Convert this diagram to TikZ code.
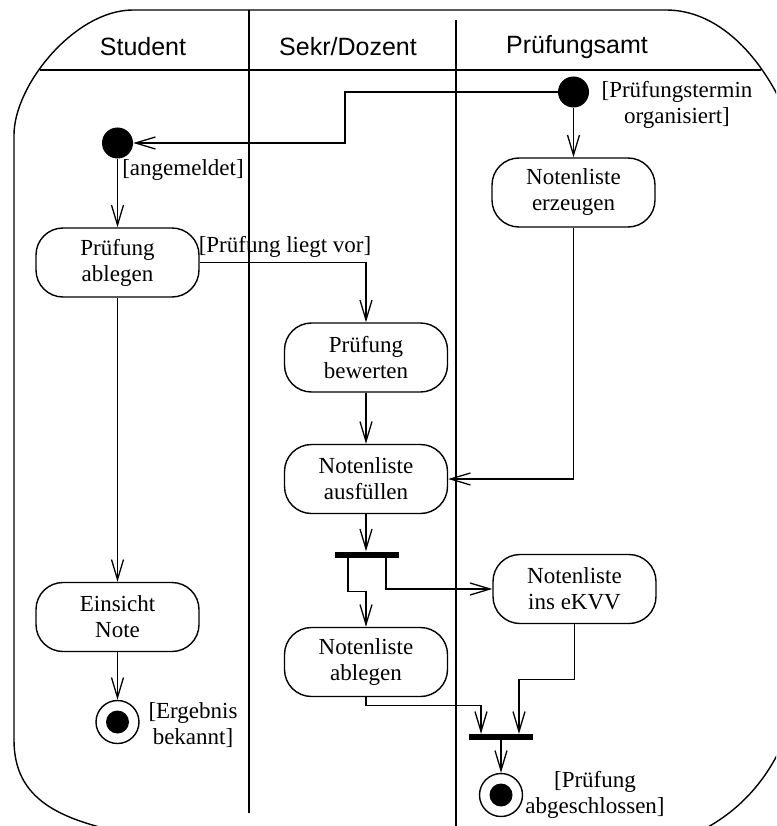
\documentclass[tikz,border=0pt]{standalone}
\usepackage{fontspec}
\setmainfont{Liberation Serif}
\setsansfont{Liberation Sans}
\usetikzlibrary{arrows.meta,calc}
\newcommand{\boxfont}{\fontsize{23}{26}\selectfont}
\newcommand{\headfont}{\sffamily\fontsize{25}{30}\selectfont}
\tikzset{
  act/.style={draw, line width=1.4pt, rounded corners=27pt, minimum width=163pt,
    minimum height=69pt, align=center, inner sep=0pt, font=\boxfont},
  initdot/.style={circle, fill=black, minimum size=31pt, inner sep=0pt},
  finaldot/.style={circle, draw, line width=1.4pt, minimum size=43pt, inner sep=0pt,
    path picture={\fill[black] (path picture bounding box.center) circle (11.5pt);}},
  syncbar/.style={fill=black, minimum width=64pt, minimum height=6pt, inner sep=0pt},
  flow/.style={line width=1.3pt, -{Straight Barb[length=20pt,width=12pt,line width=1.3pt]}},
  guard/.style={font=\boxfont, align=center, inner sep=0pt},
  head/.style={font=\headfont, inner sep=0pt},
  frameline/.style={line width=1.4pt}
}
\begin{document}
\begin{tikzpicture}[x=1pt,y=-1pt]
\useasboundingbox (0,0) rectangle (776,826);
\clip (0,0) rectangle (776,826);
\fill[white] (0,0) rectangle (776,826);
% frame
\draw[frameline] (130,834) .. controls (60,820) and (14,800) .. (14,740)
  -- (14,135) .. controls (14,85) and (75,10) .. (133,10)
  -- (666,10) .. controls (715,10) and (755,50) .. (780,100)
  .. controls (800,150) and (806,200) .. (806,300) -- (806,640)
  .. controls (800,740) and (760,810) .. (680,840);
\draw[frameline] (40,70) -- (761,70);
\draw[frameline] (249,10) -- (249,813);
\draw[frameline] (456,20) -- (456,830);
% headers
\node[head] (hs) at (143,47) {Student};
\node[head] (hd) at (348,47) {Sekr/Dozent};
\node[head] (hp) at (577,47) {Prüfungsamt};
% nodes
\node[initdot] (d1) at (573.5,92) {};
\node[initdot] (d2) at (117.5,143) {};
\node[act] (erz) at (573.5,192.5) {Notenliste\\erzeugen};
\node[act] (pabl) at (117.5,262.5) {Prüfung\\ablegen};
\node[act] (bew) at (366,357.5) {Prüfung\\bewerten};
\node[act] (aus) at (366,479) {Notenliste\\ausfüllen};
\node[syncbar] (bar1) at (367,554.5) {};
\node[act] (ekvv) at (574.5,589) {Notenliste\\ins eKVV};
\node[act] (einb) at (117.5,617) {Einsicht\\Note};
\node[act] (nabl) at (366,662) {Notenliste\\ablegen};
\node[finaldot] (f1) at (117.5,722) {};
\node[syncbar] (bar2) at (501,737) {};
\node[finaldot] (f2) at (501,795) {};
% guards
\node[guard] (g1) at (677,105) {[Prüfungstermin\\organisiert]};
\node[guard] (g2) at (183,170) {[angemeldet]};
\node[guard] (g3) at (285,247) {[Prüfung liegt vor]};
\node[guard] (g4) at (193,725) {[Ergebnis\\bekannt]};
\node[guard] (g5) at (595,795) {[Prüfung\\abgeschlossen]};
% flows
\draw[flow] (d1.west) -| (345,143) -- (d2.east);
\draw[flow] (d1.south) -- (erz.north);
\draw[flow] (d2.south) -- (pabl.north);
\draw[flow] (pabl.east) -| (bew.north);
\draw[flow] (bew.south) -- (aus.north);
\draw[flow] (erz.south) |- (aus.east);
\draw[flow] (aus.south) -- (aus.south |- bar1.north);
\draw[flow] ([xshift=-19pt]bar1.south) -- ++(0,34) -| (nabl.north);
\draw[flow] ([xshift=19pt]bar1.south) |- (ekvv.west);
\draw[flow] (pabl.south) -- (einb.north);
\draw[flow] (einb.south) -- (f1.north);
\draw[flow] (nabl.south) -- ++(0,8) -| ([xshift=-20pt]bar2.north);
\draw[flow] (ekvv.south) -- ++(0,55) -| ([xshift=18pt]bar2.north);
\draw[flow] (bar2.south) -- (f2.north);
\end{tikzpicture}
\end{document}
